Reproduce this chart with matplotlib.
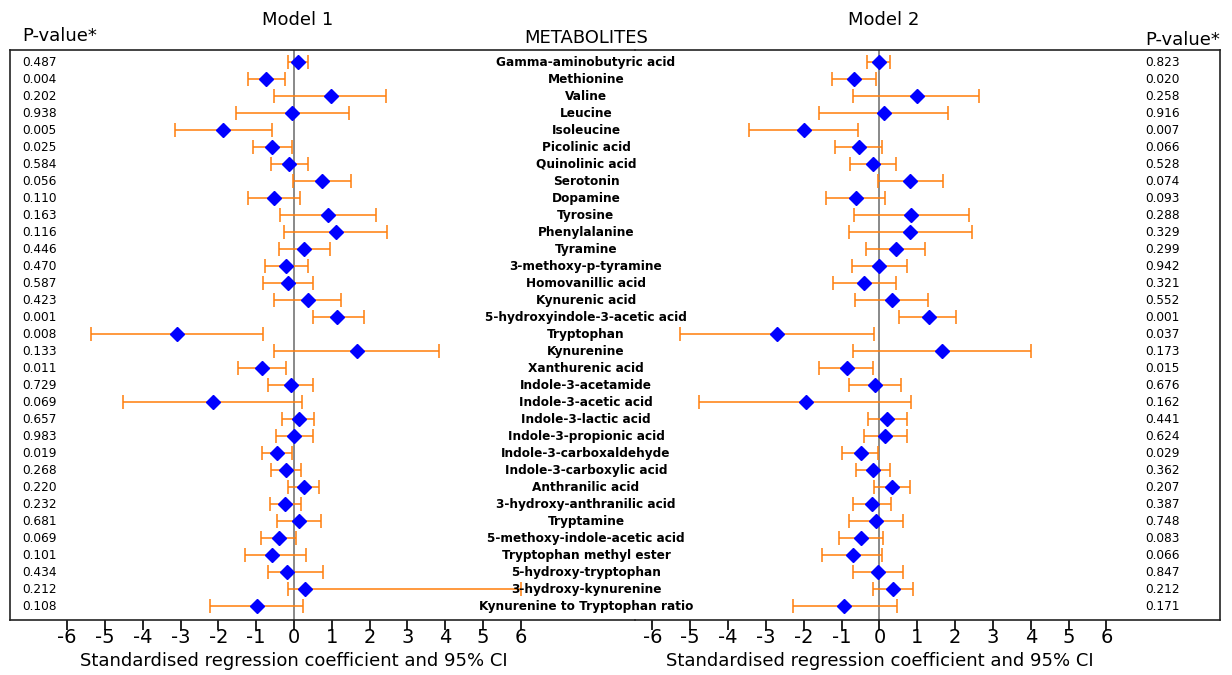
import numpy as np
import matplotlib
matplotlib.use("Agg")
import matplotlib.pyplot as plt
from matplotlib import transforms

plt.rcParams['axes.unicode_minus'] = False
plt.rcParams['font.family'] = ['DejaVu Sans']

# metabolites (top to bottom)
metabolites = ["Gamma-aminobutyric acid", "Methionine", "Valine", "Leucine", "Isoleucine",
               "Picolinic acid", "Quinolinic acid", "Serotonin", "Dopamine", "Tyrosine",
               "Phenylalanine", "Tyramine", "3-methoxy-p-tyramine", "Homovanillic acid",
               "Kynurenic acid", "5-hydroxyindole-3-acetic acid", "Tryptophan", "Kynurenine",
               "Xanthurenic acid", "Indole-3-acetamide", "Indole-3-acetic acid",
               "Indole-3-lactic acid", "Indole-3-propionic acid", "Indole-3-carboxaldehyde",
               "Indole-3-carboxylic acid", "Anthranilic acid", "3-hydroxy-anthranilic acid",
               "Tryptamine", "5-methoxy-indole-acetic acid", "Tryptophan methyl ester",
               "5-hydroxy-tryptophan", "3-hydroxy-kynurenine", "Kynurenine to Tryptophan ratio"]

# model 1
coef1 = [0.10, -0.73, 0.97, -0.05, -1.87, -0.58, -0.13, 0.75, -0.54, 0.90, 1.11,
         0.26, -0.21, -0.17, 0.37, 1.15, -3.09, 1.67, -0.86, -0.08, -2.15, 0.12,
         0.01, -0.44, -0.20, 0.26, -0.23, 0.14, -0.40, -0.59, -0.19, 0.30, -0.97]
lo1 = [-0.16, -1.23, -0.52, -1.54, -3.16, -1.08, -0.60, -0.02, -1.23, -0.36, -0.26,
       -0.41, -0.78, -0.83, -0.52, 0.49, -5.36, -0.52, -1.49, -0.68, -4.53, -0.32,
       -0.47, -0.85, -0.60, -0.16, -0.64, -0.45, -0.87, -1.29, -0.70, -0.16, -2.22]
hi1 = [0.36, -0.24, 2.44, 1.45, -0.59, -0.06, 0.36, 1.51, 0.15, 2.17, 2.47,
       0.96, 0.38, 0.49, 1.24, 1.84, -0.83, 3.84, -0.21, 0.50, 0.20, 0.54,
       0.50, -0.06, 0.19, 0.67, 0.18, 0.71, 0.04, 0.32, 0.77, 6.01, 0.25]
p1 = ["0.487", "0.004", "0.202", "0.938", "0.005", "0.025", "0.584", "0.056", "0.110",
      "0.163", "0.116", "0.446", "0.470", "0.587", "0.423", "0.001", "0.008", "0.133",
      "0.011", "0.729", "0.069", "0.657", "0.983", "0.019", "0.268", "0.220", "0.232",
      "0.681", "0.069", "0.101", "0.434", "0.212", "0.108"]

# model 2
coef2 = [0.00, -0.68, 0.99, 0.13, -1.99, -0.55, -0.16, 0.82, -0.63, 0.84, 0.82,
         0.44, 0.00, -0.40, 0.32, 1.30, -2.71, 1.65, -0.87, -0.12, -1.95, 0.21,
         0.16, -0.49, -0.18, 0.34, -0.19, -0.09, -0.48, -0.71, -0.04, 0.36, -0.93]
lo2 = [-0.32, -1.26, -0.70, -1.61, -3.45, -1.18, -0.77, -0.05, -1.40, -0.68, -0.80,
       -0.35, -0.72, -1.24, -0.65, 0.53, -5.27, -0.71, -1.60, -0.81, -4.76, -0.29,
       -0.40, -0.98, -0.62, -0.15, -0.71, -0.80, -1.06, -1.52, -0.71, -0.17, -2.29]
hi2 = [0.29, -0.09, 2.64, 1.82, -0.56, 0.06, 0.44, 1.69, 0.15, 2.36, 2.44,
       1.21, 0.73, 0.45, 1.28, 2.03, -0.14, 4.01, -0.16, 0.58, 0.84, 0.72,
       0.73, -0.04, 0.27, 0.82, 0.30, 0.61, 0.10, 0.07, 0.61, 0.88, 0.46]
p2 = ["0.823", "0.020", "0.258", "0.916", "0.007", "0.066", "0.528", "0.074", "0.093",
      "0.288", "0.329", "0.299", "0.942", "0.321", "0.552", "0.001", "0.037", "0.173",
      "0.015", "0.676", "0.162", "0.441", "0.624", "0.029", "0.362", "0.207", "0.387",
      "0.748", "0.083", "0.066", "0.847", "0.212", "0.171"]

ticks = list(range(-6, 7))

fig = plt.figure(figsize=(12.32, 6.75), dpi=100)
ax1 = fig.add_axes([10/1232, 55/675, 625/1232, 570/675])
ax2 = fig.add_axes([635/1232, 55/675, 585/1232, 570/675])
ax2.patch.set_visible(False)

y = np.arange(len(metabolites))


def forest(ax, coef, lo, hi, xlim):
    coef = np.array(coef)
    err = [coef - np.array(lo), np.array(hi) - coef]
    ax.axvline(0, color="gray", lw=1.3, zorder=1)
    ax.errorbar(coef, y, xerr=err, fmt="none", ecolor="#ff7f0e", alpha=0.8,
                elinewidth=1.4, capsize=5, capthick=1.4, zorder=2)
    ax.plot(coef, y, "D", color="blue", ms=7, zorder=3)
    ax.set_xlim(*xlim)
    ax.set_ylim(32.82, -0.71)
    ax.set_yticks([])
    ax.set_xticks(ticks)
    ax.set_xticklabels([str(t) for t in ticks], fontsize=14)
    ax.tick_params(axis="x", length=7, width=1.2, pad=-1)
    ax.set_xlabel("Standardised regression coefficient and 95% CI", fontsize=13)
    ax.xaxis.set_label_coords((0 - xlim[0]) / (xlim[1] - xlim[0]), -0.057)
    for s in ax.spines.values():
        s.set_linewidth(1.2)
        s.set_color("#222222")


forest(ax1, coef1, lo1, hi1, (-7.513, 9.02))
forest(ax2, coef2, lo2, hi2, (-6.46, 9.0))
ax1.spines["right"].set_visible(False)
ax2.spines["left"].set_visible(False)

tr1 = ax1.get_yaxis_transform()
tr2 = ax2.get_yaxis_transform()
for i in range(len(metabolites)):
    ax1.text(0.02, i, p1[i], transform=tr1, fontsize=8.7, va="center", ha="left")
    ax2.text(0.872, i, p2[i], transform=tr2, fontsize=8.7, va="center", ha="left")
    ax1.text(0.9216, i, metabolites[i], transform=tr1, fontsize=8.7, fontweight="bold",
             va="center", ha="center", zorder=5)

ax1.text(0.9216, 1.006, "METABOLITES", transform=ax1.transAxes, fontsize=13,
         ha="center", va="bottom")
ax1.text(0.02, 1.015, "P-value*", transform=ax1.transAxes, fontsize=13, ha="left", va="baseline")
ax2.text(1.0, 1.009, "P-value*", transform=ax2.transAxes, fontsize=13, ha="right", va="baseline")

b1 = transforms.blended_transform_factory(ax1.transData, ax1.transAxes)
b2 = transforms.blended_transform_factory(ax2.transData, ax2.transAxes)
ax1.text(0.1, 1.044, "Model 1", transform=b1, fontsize=13, ha="center", va="baseline")
ax2.text(0.1, 1.044, "Model 2", transform=b2, fontsize=13, ha="center", va="baseline")

fig.savefig("out.png", dpi=100)
